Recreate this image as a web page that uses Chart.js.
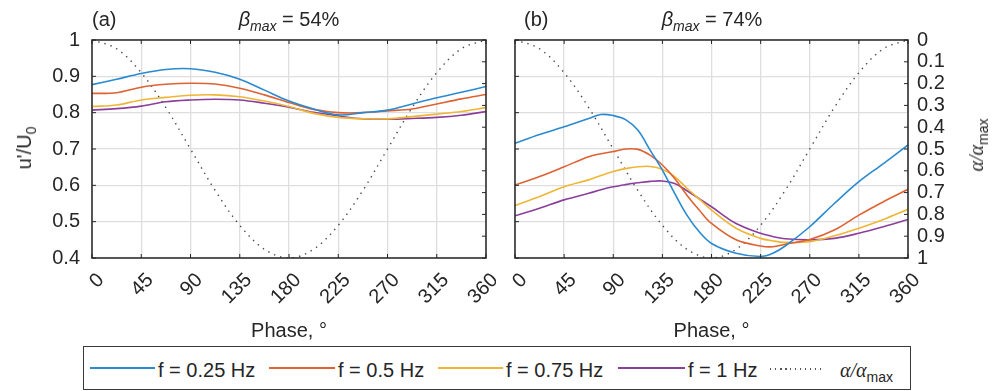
<!DOCTYPE html>
<html>
<head>
<meta charset="utf-8">
<script src="https://cdn.jsdelivr.net/npm/chart.js@4.4.1/dist/chart.umd.min.js"></script>
<style>
  body { margin: 0; background: #fff; }
  #page { position: relative; width: 992px; height: 391px; overflow: hidden;
          font-family: "Liberation Sans", Arial, sans-serif; color: #262626; }
  canvas { position: absolute; top: 0; }
  .t { position: absolute; font-size: 20px; line-height: 20px; white-space: nowrap; }
  .rot { transform: translate(-50%, -50%) rotate(-90deg); }
  .ser { font-family: "Liberation Serif", "DejaVu Serif", serif; font-style: italic; }
  sub { font-size: 14px; vertical-align: -5px; line-height: 0; }
  #legend { position: absolute; left: 83px; top: 346px; width: 828px; height: 44px;
            box-sizing: border-box; border: 1.5px solid #3a3a3a; background: #fff; }
  .ln { position: absolute; height: 2px; top: 367px; }
  .dots { position: absolute; height: 1.5px; top: 368px;
          background: repeating-linear-gradient(to right, #555 0 1.5px, transparent 1.5px 5px); }
</style>
</head>
<body>
<div id="page">
  <canvas id="chartA" width="496" height="345" style="left:0"></canvas>
  <canvas id="chartB" width="496" height="345" style="left:496px"></canvas>

  <div class="t" style="left:92px; top:9px">(a)</div>
  <div class="t" style="left:189px; width:200px; top:9px; text-align:center"><i>β</i><sub><i>max</i></sub> = 54%</div>
  <div class="t" style="left:524px; top:9px">(b)</div>
  <div class="t" style="left:612px; width:200px; top:9px; text-align:center"><i>β</i><sub><i>max</i></sub> = 74%</div>

  <div class="t rot" style="left:24px; top:148px">u'/U<sub>0</sub></div>
  <div class="t rot" style="left:976px; top:145px"><span class="ser">α/α</span><sub>max</sub></div>

  <div id="legend"></div>
  <div class="ln" style="left:90px; width:65px; background:#2a8ad0"></div>
  <div class="t" style="left:158px; top:360px">f = 0.25 Hz</div>
  <div class="ln" style="left:269px; width:66px; background:#de6232"></div>
  <div class="t" style="left:338px; top:360px">f = 0.5 Hz</div>
  <div class="ln" style="left:438px; width:65px; background:#efb636"></div>
  <div class="t" style="left:506px; top:360px">f = 0.75 Hz</div>
  <div class="ln" style="left:618px; width:67px; background:#8b3f9b"></div>
  <div class="t" style="left:688px; top:360px">f = 1 Hz</div>
  <div class="dots" style="left:770px; width:54px"></div>
  <div class="t" style="left:840px; top:360px"><span class="ser">α/α</span><sub>max</sub></div>
</div>

<script>
// 축 눈금
const phaseTicks = [0, 45, 90, 135, 180, 225, 270, 315, 360];
const uTicks = [0.4, 0.5, 0.6, 0.7, 0.8, 0.9, 1];
const alphaTicks = [0, 0.1, 0.2, 0.3, 0.4, 0.5, 0.6, 0.7, 0.8, 0.9, 1];

// (a) beta_max = 54%
const phaseA = [0, 22.5, 45, 67.5, 90, 112.5, 135, 157.5, 180, 202.5, 225, 247.5, 270, 292.5, 315, 337.5, 360];
const f025A = [0.877, 0.892, 0.908, 0.919, 0.921, 0.911, 0.892, 0.862, 0.832, 0.810, 0.794, 0.800, 0.807, 0.824, 0.841, 0.856, 0.872];
const f05A  = [0.853, 0.855, 0.870, 0.878, 0.881, 0.879, 0.867, 0.849, 0.828, 0.809, 0.800, 0.800, 0.805, 0.810, 0.824, 0.838, 0.850];
const f075A = [0.817, 0.821, 0.835, 0.842, 0.848, 0.849, 0.844, 0.832, 0.817, 0.798, 0.787, 0.783, 0.783, 0.789, 0.796, 0.803, 0.814];
const f1A   = [0.807, 0.811, 0.818, 0.830, 0.835, 0.837, 0.835, 0.826, 0.815, 0.801, 0.791, 0.783, 0.782, 0.784, 0.787, 0.793, 0.803];

// (b) beta_max = 74%
const phaseB = [0, 22.5, 45, 67.5, 78.75, 90, 101.25, 112.5, 123.75, 135, 146.25, 157.5, 168.75, 180, 202.5, 225, 236.25, 247.5, 270, 292.5, 315, 337.5, 360];
const f025B = [0.716, 0.740, 0.761, 0.784, 0.795, 0.792, 0.781, 0.752, 0.697, 0.642, 0.578, 0.518, 0.472, 0.440, 0.413, 0.404, 0.413, 0.433, 0.486, 0.550, 0.610, 0.660, 0.711];
const f05B  = [0.601, 0.624, 0.651, 0.679, 0.687, 0.693, 0.700, 0.699, 0.683, 0.656, 0.619, 0.573, 0.532, 0.495, 0.450, 0.433, 0.431, 0.438, 0.451, 0.477, 0.518, 0.555, 0.589];
const f075B = [0.544, 0.569, 0.596, 0.615, 0.627, 0.638, 0.646, 0.651, 0.652, 0.644, 0.624, 0.592, 0.562, 0.532, 0.482, 0.454, 0.447, 0.443, 0.445, 0.461, 0.482, 0.506, 0.534];
const f1B   = [0.516, 0.537, 0.560, 0.578, 0.588, 0.596, 0.602, 0.607, 0.611, 0.612, 0.605, 0.585, 0.563, 0.541, 0.495, 0.468, 0.459, 0.453, 0.450, 0.454, 0.468, 0.486, 0.506];

// alpha/alpha_max (오른쪽 축, 뒤집힘)
const alphaPhase = [0, 22.5, 45, 67.5, 90, 112.5, 135, 157.5, 180, 202.5, 225, 247.5, 270, 292.5, 315, 337.5, 360];
const alphaRatio = [0, 0.04, 0.15, 0.31, 0.5, 0.69, 0.85, 0.96, 1, 0.96, 0.85, 0.69, 0.5, 0.31, 0.15, 0.04, 0];

const names = ["f = 0.25 Hz", "f = 0.5 Hz", "f = 0.75 Hz", "f = 1 Hz"];
const colors = ["#2a8ad0", "#de6232", "#efb636", "#8b3f9b"];
const ink = "#262626";
const font = '"Liberation Sans", Arial, sans-serif';

const pts = (xs, ys) => xs.map((x, i) => ({ x: x, y: ys[i] }));

// 박스, 안쪽 눈금, 45도 회전 x 라벨
const framePlugin = {
  id: "frame",
  afterDatasetsDraw(chart) {
    const { ctx, chartArea: a, scales } = chart;
    ctx.save();
    ctx.strokeStyle = ink;
    ctx.lineWidth = 1;
    ctx.beginPath();
    phaseTicks.forEach(v => {
      const x = scales.x.getPixelForValue(v);
      ctx.moveTo(x, a.bottom); ctx.lineTo(x, a.bottom - 4);
      ctx.moveTo(x, a.top); ctx.lineTo(x, a.top + 4);
    });
    uTicks.forEach(v => {
      const y = scales.y.getPixelForValue(v);
      ctx.moveTo(a.left, y); ctx.lineTo(a.left + 4, y);
    });
    alphaTicks.forEach(v => {
      const y = scales.y2.getPixelForValue(v);
      ctx.moveTo(a.right, y); ctx.lineTo(a.right - 4, y);
    });
    ctx.stroke();
    ctx.lineWidth = 1.5;
    ctx.strokeRect(a.left, a.top, a.right - a.left, a.bottom - a.top);

    ctx.fillStyle = ink;
    ctx.font = "20px " + font;
    ctx.textAlign = "right";
    ctx.textBaseline = "middle";
    phaseTicks.forEach(v => {
      const x = scales.x.getPixelForValue(v);
      ctx.save();
      ctx.translate(x + 9, a.bottom + 19);
      ctx.rotate(-Math.PI / 4);
      ctx.fillText(String(v), 0, 0);
      ctx.restore();
    });
    ctx.restore();
  }
};

function makePanel(id, phase, series, leftW, rightW, leftLabels, rightLabels) {
  const datasets = series.map((s, i) => ({
    label: names[i],
    data: pts(phase, s),
    borderColor: colors[i],
    borderWidth: 1.6,
    yAxisID: "y"
  }));
  datasets.push({
    label: "α/α max",
    data: pts(alphaPhase, alphaRatio),
    borderColor: "#4a4a4a",
    borderWidth: 1.4,
    borderDash: [1.4, 5],
    yAxisID: "y2"
  });

  new Chart(document.getElementById(id), {
    type: "line",
    data: { datasets: datasets },
    options: {
      responsive: false,
      animation: false,
      layout: { padding: { top: 40, left: 0, right: 0, bottom: 0 } },
      elements: {
        point: { radius: 0 },
        line: { tension: 0.35, fill: false }
      },
      plugins: { legend: { display: false }, tooltip: { enabled: false } },
      scales: {
        x: {
          type: "linear", min: 0, max: 360,
          afterBuildTicks: s => { s.ticks = phaseTicks.map(v => ({ value: v })); },
          afterFit: s => { s.height = 87; },
          ticks: { display: false },
          grid: { color: "#dedede", lineWidth: 1.3, drawTicks: false },
          border: { display: false },
          title: { display: true, text: "Phase, °", color: ink,
                   font: { size: 20, family: font }, padding: { top: 0, bottom: 2 } }
        },
        y: {
          position: "left", min: 0.4, max: 1,
          afterBuildTicks: s => { s.ticks = uTicks.map(v => ({ value: v })); },
          afterFit: s => { s.width = leftW; },
          ticks: { display: leftLabels, autoSkip: false, color: ink, padding: 12,
                   font: { size: 20, family: font }, callback: v => String(+v.toFixed(1)) },
          grid: { color: "#dedede", lineWidth: 1.3, drawTicks: false },
          border: { display: false }
        },
        y2: {
          position: "right", min: 0, max: 1, reverse: true,
          afterBuildTicks: s => { s.ticks = alphaTicks.map(v => ({ value: v })); },
          afterFit: s => { s.width = rightW; },
          ticks: { display: rightLabels, autoSkip: false, color: ink, padding: 9,
                   font: { size: 20, family: font }, callback: v => String(+v.toFixed(1)) },
          grid: { display: false, drawTicks: false },
          border: { display: false }
        }
      }
    },
    plugins: [framePlugin]
  });
}

makePanel("chartA", phaseA, [f025A, f05A, f075A, f1A], 92, 10, true, false);
makePanel("chartB", phaseB, [f025B, f05B, f075B, f1B], 19, 84, false, true);
</script>
</body>
</html>
